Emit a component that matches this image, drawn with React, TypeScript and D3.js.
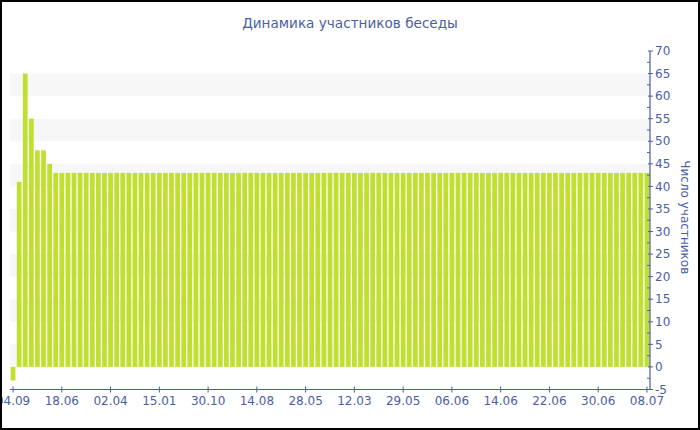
import React from "react";
import * as d3 from "d3";

const title = "Динамика участников беседы";
const yTitle = "Число участников";

// values for each of the 105 days
const values: number[] = [
  -3, 41, 65, 55, 48, 48, 45, 43, 43, 43,
  43, 43, 43, 43, 43, 43, 43, 43, 43, 43,
  43, 43, 43, 43, 43, 43, 43, 43, 43, 43,
  43, 43, 43, 43, 43, 43, 43, 43, 43, 43,
  43, 43, 43, 43, 43, 43, 43, 43, 43, 43,
  43, 43, 43, 43, 43, 43, 43, 43, 43, 43,
  43, 43, 43, 43, 43, 43, 43, 43, 43, 43,
  43, 43, 43, 43, 43, 43, 43, 43, 43, 43,
  43, 43, 43, 43, 43, 43, 43, 43, 43, 43,
  43, 43, 43, 43, 43, 43, 43, 43, 43, 43,
  43, 43, 43, 43, 43,
];

// labels shown every 8th category
const tickLabels: string[] = [
  "04.09", "18.06", "02.04", "15.01", "30.10", "14.08", "28.05",
  "12.03", "29.05", "06.06", "14.06", "22.06", "30.06", "08.07",
];
const tickEvery = 8;

const yMajorTicks: number[] = [-5, 0, 5, 10, 15, 20, 25, 30, 35, 40, 45, 50, 55, 60, 65, 70];
const bandStarts: number[] = [0, 10, 20, 30, 40, 50, 60];

const W = 700;
const H = 430;
const left = 10;
const right = 650;
const top = 51;
const bottom = 389.5;

const axisColor = "#4a5ea6";
const barColor = "#bfe030";
const bandColor = "#f7f7f7";
const font = "'DejaVu Sans', Verdana, sans-serif";

export default function App() {
  const idx = values.map((_, i) => i);
  const x = d3.scaleBand<number>().domain(idx).range([left, right]).paddingInner(0.22).paddingOuter(0.11);
  const y = d3.scaleLinear().domain([-5, 70]).range([bottom, top]);
  const minorTicks = d3.range(-2.5, 70, 5);

  return (
    <svg width={W} height={H} style={{ position: "fixed", left: 0, top: 0, background: "#fff" }}>
      <rect x={0} y={0} width={W} height={H} fill="#fff" />
      {bandStarts.map((b) => (
        <rect key={b} x={left} width={right - left} y={y(b + 5)} height={y(b) - y(b + 5)} fill={bandColor} />
      ))}
      {values.map((v, i) => (
        <rect
          key={i}
          x={x(i)}
          width={x.bandwidth()}
          y={y(Math.max(0, v))}
          height={Math.abs(y(v) - y(0))}
          fill={barColor}
        />
      ))}
      {/* x axis */}
      <line x1={left} x2={right} y1={bottom} y2={bottom} stroke={axisColor} strokeWidth={1.2} />
      {tickLabels.map((t, k) => {
        const i = k * tickEvery;
        const cx = (x(i) as number) + x.bandwidth() / 2;
        return (
          <g key={t + k}>
            <line x1={cx} x2={cx} y1={bottom - 3} y2={bottom + 3} stroke={axisColor} />
            <text x={cx} y={bottom + 15.5} textAnchor="middle" fontFamily={font} fontSize={12} fill={axisColor}>
              {t}
            </text>
          </g>
        );
      })}
      {/* y axis */}
      <line x1={right} x2={right} y1={top} y2={bottom} stroke={axisColor} strokeWidth={1.2} />
      {minorTicks.map((t) => (
        <line key={t} x1={right - 3} x2={right} y1={y(t)} y2={y(t)} stroke={axisColor} />
      ))}
      {yMajorTicks.map((t) => (
        <g key={t}>
          <line x1={right - 2} x2={right + 3} y1={y(t)} y2={y(t)} stroke={axisColor} />
          <text x={right + 5} y={y(t)} dy="0.35em" fontFamily={font} fontSize={12} fill={axisColor}>
            {t}
          </text>
        </g>
      ))}
      <text
        transform={`translate(681, ${(top + bottom) / 2 - 3}) rotate(90)`}
        textAnchor="middle"
        fontFamily={font}
        fontSize={12}
        fill={axisColor}
      >
        {yTitle}
      </text>
      <text x={350} y={28} textAnchor="middle" fontFamily={font} fontSize={13.6} fill={axisColor}>
        {title}
      </text>
      <rect x={1} y={1} width={W - 2} height={H - 2} fill="none" stroke="#000" strokeWidth={2} />
    </svg>
  );
}
